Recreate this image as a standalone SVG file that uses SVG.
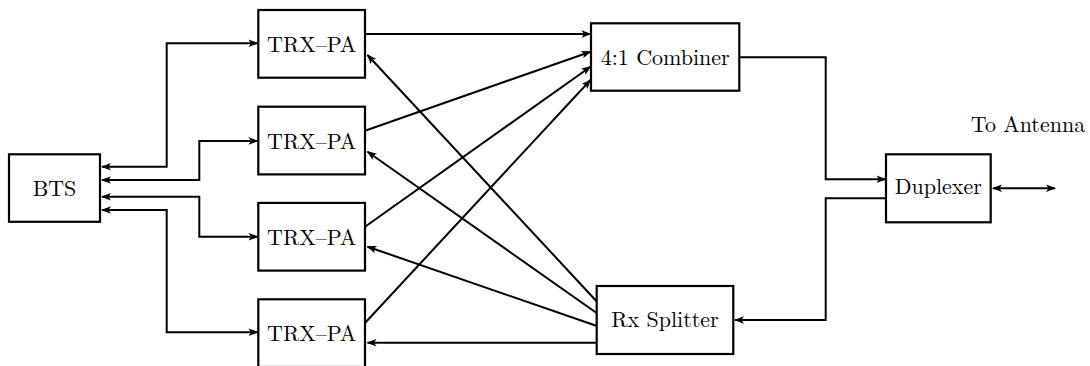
<svg xmlns="http://www.w3.org/2000/svg" width="1090" height="366" viewBox="0 0 1090 366">
  <style>
    .box { fill: #ffffff; stroke: #000000; stroke-width: 2.2; }
    .lbl { font-family: "Latin Modern Roman", "Liberation Serif", serif; font-size: 22px; fill: #000000; text-anchor: middle; }
    .wire { fill: none; stroke: #000000; stroke-width: 2; }
    .fwd { marker-end: url(#tip); }
    .both { marker-start: url(#tip); marker-end: url(#tip); }
  </style>
  <defs>
    <marker id="tip" viewBox="-10 -5 12 10" refX="0" refY="0" markerWidth="12" markerHeight="10" markerUnits="userSpaceOnUse" orient="auto-start-reverse">
      <path d="M1,0 L-9,-3.8 L-6.5,0 L-9,3.8 Z" fill="#000000"/>
    </marker>
  </defs>

  <rect width="1090" height="366" fill="#ffffff"/>

  <!-- connectors -->
  <g id="connectors">
    <!-- BTS to the four TRX-PA units -->
    <path class="wire both" d="M102,166.7 H166.7 V43.3 H257.5"/>
    <path class="wire both" d="M102,180 H199.3 V141 H257.5"/>
    <path class="wire both" d="M102,196.7 H199.3 V236.7 H257.5"/>
    <path class="wire both" d="M102,210 H166.7 V332.3 H257.5"/>
    <!-- TRX-PA outputs into the combiner -->
    <path class="wire fwd" d="M365,34 H590.5"/>
    <path class="wire fwd" d="M365,130.7 L590.5,51.7"/>
    <path class="wire fwd" d="M365,226.7 L590.5,66.7"/>
    <path class="wire fwd" d="M365,323 L590.5,80"/>
    <!-- combiner to duplexer, duplexer to splitter -->
    <path class="wire fwd" d="M739,57.3 H825.7 V179.3 H885.5"/>
    <path class="wire fwd" d="M886,198.3 H825.7 V320 H735"/>
    <!-- antenna port -->
    <path class="wire both" d="M993,188.3 H1055"/>
    <!-- Rx splitter back to the TRX-PA units -->
    <path class="wire fwd" d="M597,301.7 L367.5,55"/>
    <path class="wire fwd" d="M597,313.3 L367.5,151.7"/>
    <path class="wire fwd" d="M597,326 L367.5,246.7"/>
    <path class="wire fwd" d="M597,342.7 H367.5"/>
  </g>

  <g id="bts">
    <rect class="box" x="9" y="154.3" width="91" height="67.5"/>
    <text class="lbl" x="54.5" y="196">BTS</text>
  </g>
  <g id="trx1">
    <rect class="box" x="258.3" y="10" width="106.7" height="67.7"/>
    <text class="lbl" x="311.7" y="52.3">TRX–PA</text>
  </g>
  <g id="trx2">
    <rect class="box" x="258.3" y="106.7" width="106.7" height="67.7"/>
    <text class="lbl" x="311.7" y="149">TRX–PA</text>
  </g>
  <g id="trx3">
    <rect class="box" x="258.3" y="202.9" width="106.7" height="67.7"/>
    <text class="lbl" x="311.7" y="245.2">TRX–PA</text>
  </g>
  <g id="trx4">
    <rect class="box" x="258.3" y="299.3" width="106.7" height="67.7"/>
    <text class="lbl" x="311.7" y="341.3">TRX–PA</text>
  </g>
  <g id="combiner">
    <rect class="box" x="591" y="23.3" width="148.3" height="67.4"/>
    <text class="lbl" x="665.2" y="65">4:1 Combiner</text>
  </g>
  <g id="duplexer">
    <rect class="box" x="886" y="154.3" width="104.7" height="68"/>
    <text class="lbl" x="938.3" y="194">Duplexer</text>
  </g>
  <g id="splitter">
    <rect class="box" x="596.7" y="286" width="136.6" height="68"/>
    <text class="lbl" x="665" y="326.7">Rx Splitter</text>
  </g>
  <g id="antenna-label">
    <text class="lbl" x="1028" y="132.3">To Antenna</text>
  </g>
</svg>
